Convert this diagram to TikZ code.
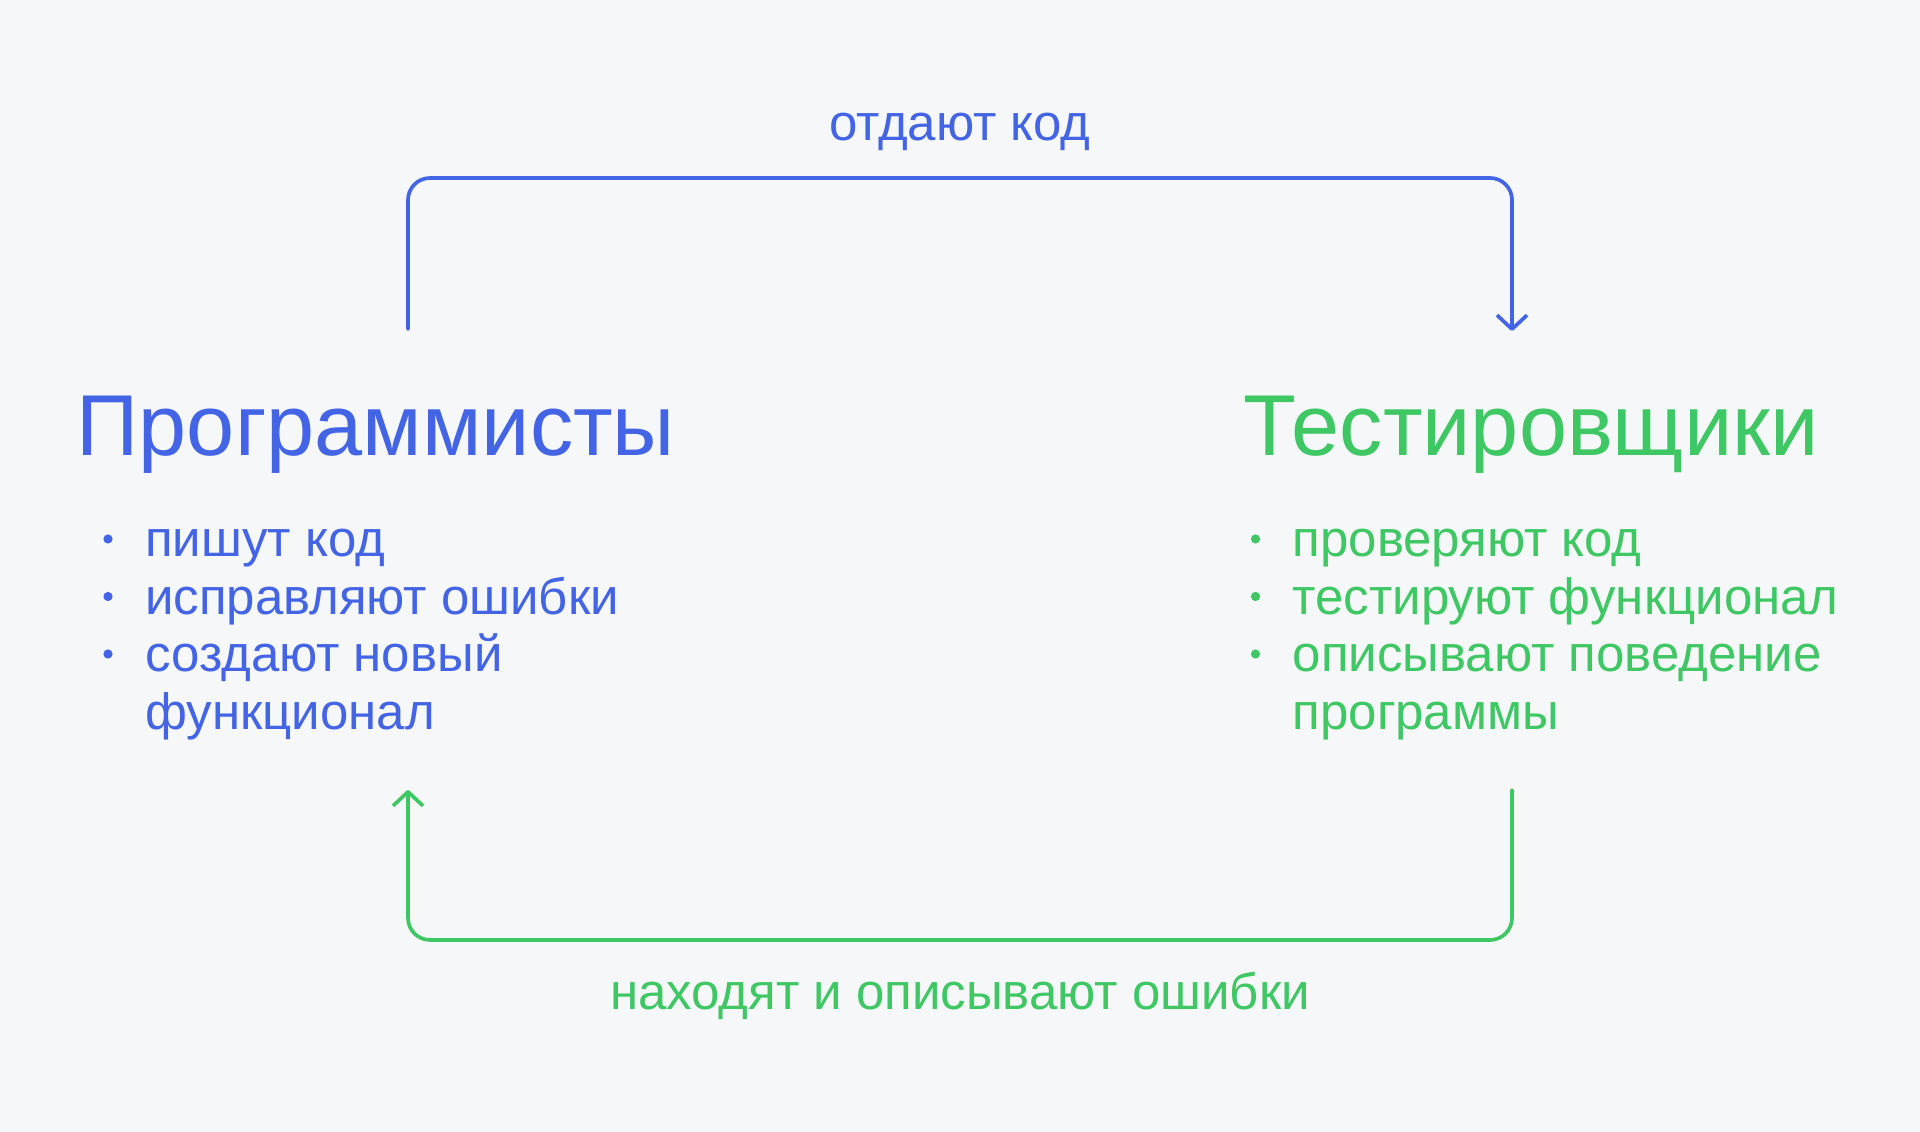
\documentclass[tikz,border=0pt]{standalone}
\usepackage{fontspec}
\setmainfont{Liberation Sans}
\usepackage{tikz}
\usetikzlibrary{positioning,arrows.meta}

\definecolor{progblue}{HTML}{4464E6}
\definecolor{testgreen}{HTML}{3FC764}
\definecolor{bggray}{HTML}{F5F7F9}

\begin{document}
\begin{tikzpicture}[
bg/.style={
  fill=bggray,
  draw=none
  },
title/.style={
  font=\fontsize{24.6}{28}\selectfont,
  anchor=base west,
  inner sep=0pt
  },
item/.style={
  font=\fontsize{14.5}{17}\selectfont,
  anchor=base west,
  inner sep=0pt
  },
flowtext/.style={
  font=\fontsize{14.5}{17}\selectfont,
  anchor=base,
  inner sep=0pt
  },
link/.style={
  line width=1.05pt,
  rounded corners=0.22cm,
  line cap=round
  },
>={Straight Barb[length=0.14cm,width=0.3cm,line join=round]}
]

\path[bg,use as bounding box] (0,0) rectangle (19.2,11.32);

% titles
\node[title,text=progblue] (prog) at (0.76,6.765) {Программисты};
\node[title,text=testgreen] (test) at (12.43,6.765) {Тестировщики};

% bullet lists
\foreach \txt [count=\i] in {пишут код,исправляют ошибки,создают новый}
  \node[item,text=progblue] (prog-\i) at (1.445,{5.75-0.575*(\i-1)}) {\txt};
\node[item,text=progblue] (prog-4) at (1.445,4.025) {функционал};
\foreach \txt [count=\i] in {проверяют код,тестируют функционал,описывают поведение}
  \node[item,text=testgreen] (test-\i) at (12.92,{5.75-0.575*(\i-1)}) {\txt};
\node[item,text=testgreen] (test-4) at (12.92,4.025) {программы};
\foreach \i in {1,2,3}
{
  \fill[progblue] (prog-\i.base west) ++(-0.365,0.18) circle (0.046);
  \fill[testgreen] (test-\i.base west) ++(-0.365,0.18) circle (0.046);
}

% connectors
\coordinate (give-start) at (4.08,8.03);
\coordinate (give-top) at (9.6,9.54);
\coordinate (give-end) at (15.12,8.01);
\draw[link,progblue,->] (give-start) |- (give-top) -| (give-end);
\node[flowtext,text=progblue] (give) at (9.6,9.91) {отдают код};

\coordinate (find-start) at (15.12,3.42);
\coordinate (find-bottom) at (9.6,1.92);
\coordinate (find-end) at (4.08,3.42);
\draw[link,testgreen,->] (find-start) |- (find-bottom) -| (find-end);
\node[flowtext,text=testgreen] (find) at (9.6,1.22) {находят и описывают ошибки};
\end{tikzpicture}
\end{document}
